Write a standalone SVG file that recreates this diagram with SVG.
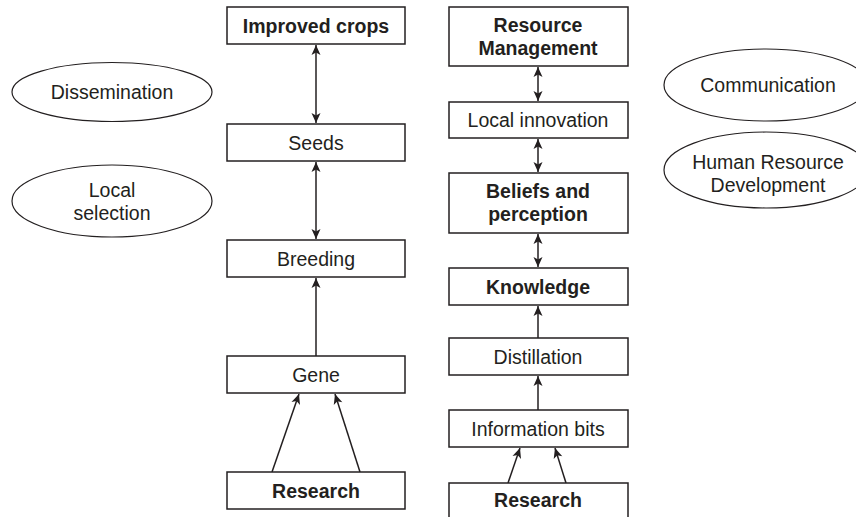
<svg xmlns="http://www.w3.org/2000/svg" width="856" height="517" viewBox="0 0 856 517">
<defs>
<style>
.box{fill:#fff;stroke:#231f20;stroke-width:1.5}
.ell{fill:#fff;stroke:#231f20;stroke-width:1.2}
.t{font-family:"Liberation Sans",Arial,sans-serif;font-size:19.5px;fill:#231f20;text-anchor:middle}
.b{font-weight:bold}
.c{fill:none;stroke:#231f20;stroke-width:1.5}
</style>
<marker id="ah" viewBox="-1 -5 12 10" markerWidth="12" markerHeight="10" refX="10" refY="0" orient="auto-start-reverse" markerUnits="userSpaceOnUse">
<path d="M0,-4.5 L10,0 L0,4.5 L2.5,0 z" fill="#231f20"/>
</marker>
</defs>
<rect width="856" height="517" fill="#fff"/>

<g id="connectors">
<line class="c" x1="316" y1="45" x2="316" y2="123" marker-start="url(#ah)" marker-end="url(#ah)"/>
<line class="c" x1="316" y1="162" x2="316" y2="239" marker-start="url(#ah)" marker-end="url(#ah)"/>
<line class="c" x1="316" y1="356" x2="316" y2="278" marker-end="url(#ah)"/>
<line class="c" x1="272" y1="472" x2="299" y2="394" marker-end="url(#ah)"/>
<line class="c" x1="360" y1="472" x2="335" y2="394" marker-end="url(#ah)"/>
<line class="c" x1="538" y1="67" x2="538" y2="101" marker-start="url(#ah)" marker-end="url(#ah)"/>
<line class="c" x1="538" y1="139" x2="538" y2="172" marker-start="url(#ah)" marker-end="url(#ah)"/>
<line class="c" x1="538" y1="234" x2="538" y2="267" marker-start="url(#ah)" marker-end="url(#ah)"/>
<line class="c" x1="538" y1="338" x2="538" y2="306" marker-end="url(#ah)"/>
<line class="c" x1="538" y1="410" x2="538" y2="376" marker-end="url(#ah)"/>
<line class="c" x1="508" y1="483" x2="520" y2="448" marker-end="url(#ah)"/>
<line class="c" x1="566" y1="483" x2="555" y2="448" marker-end="url(#ah)"/>
</g>

<g id="improved-crops"><rect class="box" x="227" y="7" width="178" height="37"/><text class="t b" x="316" y="32.5">Improved crops</text></g>
<g id="seeds"><rect class="box" x="227" y="124" width="178" height="37"/><text class="t" x="316" y="149.5">Seeds</text></g>
<g id="breeding"><rect class="box" x="227" y="240" width="178" height="37"/><text class="t" x="316" y="265.5">Breeding</text></g>
<g id="gene"><rect class="box" x="227" y="356" width="178" height="37"/><text class="t" x="316" y="381.5">Gene</text></g>
<g id="research-left"><rect class="box" x="227" y="472" width="178" height="37"/><text class="t b" x="316" y="497.5">Research</text></g>

<g id="resource-management"><rect class="box" x="449" y="7" width="179" height="59"/><text class="t b" x="538" y="31.5">Resource</text><text class="t b" x="538" y="54.5">Management</text></g>
<g id="local-innovation"><rect class="box" x="449" y="102" width="179" height="36"/><text class="t" x="538" y="126.5">Local innovation</text></g>
<g id="beliefs"><rect class="box" x="449" y="173" width="179" height="60"/><text class="t b" x="538" y="197.5">Beliefs and</text><text class="t b" x="538" y="220.5">perception</text></g>
<g id="knowledge"><rect class="box" x="449" y="268" width="179" height="37"/><text class="t b" x="538" y="293.5">Knowledge</text></g>
<g id="distillation"><rect class="box" x="449" y="338" width="179" height="37"/><text class="t" x="538" y="363.5">Distillation</text></g>
<g id="information-bits"><rect class="box" x="449" y="410" width="179" height="37"/><text class="t" x="538" y="435.5">Information bits</text></g>
<g id="research-right"><rect class="box" x="449" y="483" width="179" height="37"/><text class="t b" x="538" y="506.5">Research</text></g>

<g id="dissemination"><ellipse class="ell" cx="112" cy="92" rx="100" ry="29.5"/><text class="t" x="112" y="99">Dissemination</text></g>
<g id="local-selection"><ellipse class="ell" cx="112" cy="201" rx="100" ry="36"/><text class="t" x="112" y="196.5">Local</text><text class="t" x="112" y="219.5">selection</text></g>
<g id="communication"><ellipse class="ell" cx="766" cy="85" rx="102" ry="36"/><text class="t" x="768" y="91.5">Communication</text></g>
<g id="hrd"><ellipse class="ell" cx="766" cy="170" rx="102" ry="38"/><text class="t" x="768" y="168.5">Human Resource</text><text class="t" x="768" y="191.5">Development</text></g>
</svg>
